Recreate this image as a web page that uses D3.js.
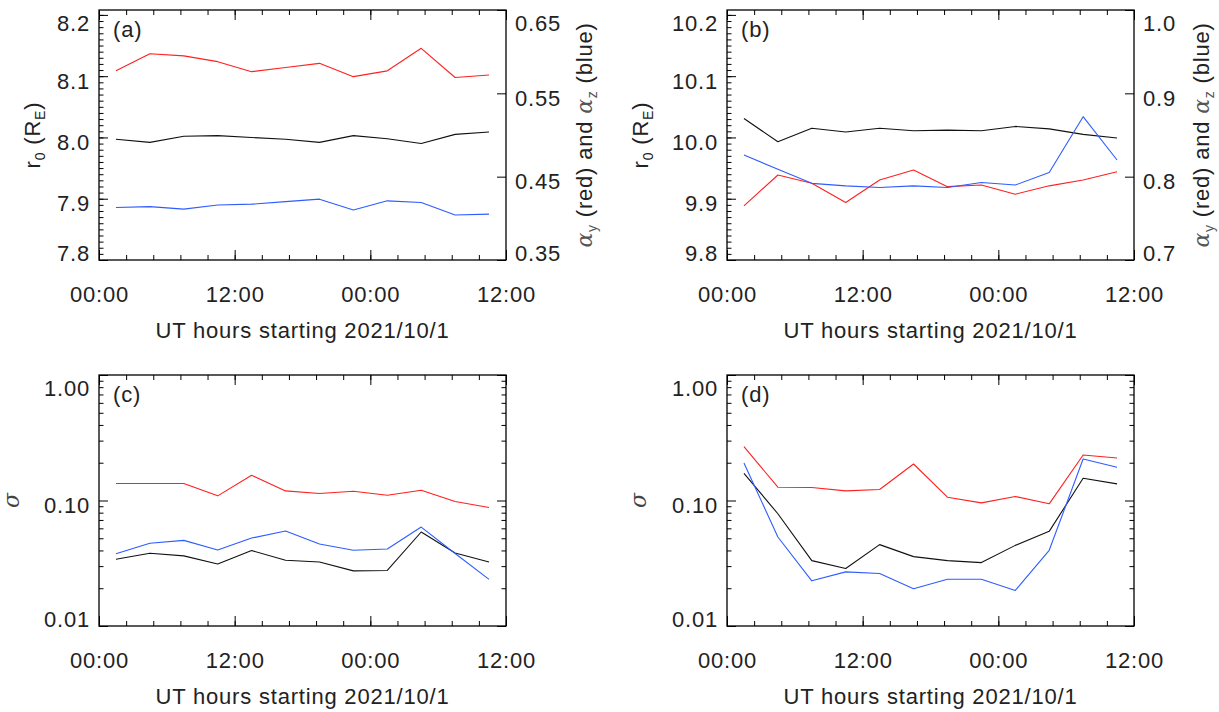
<!DOCTYPE html>
<html><head><meta charset="utf-8">
<script src="https://cdn.jsdelivr.net/npm/d3@7"></script>
<style>
body{margin:0;background:#fff;}
svg{display:block;}
</style></head><body>
<svg id="chart" width="1219" height="712"></svg>
<script>
// ---------- data ----------
const hours = [1.5, 4.5, 7.5, 10.5, 13.5, 16.5, 19.5, 22.5, 25.5, 28.5, 31.5, 34.5];
const xTickHours = [0, 12, 24, 36];
const xTickLabels = ["00:00", "12:00", "00:00", "12:00"];
const xTitle = "UT hours starting 2021/10/1";

const aR0     = [7.997, 7.992, 8.002, 8.003, 8.000, 7.997, 7.992, 8.003, 7.998, 7.990, 8.005, 8.009];
const aAlphaY = [0.577, 0.5975, 0.595, 0.588, 0.576, 0.581, 0.586, 0.570, 0.577, 0.604, 0.569, 0.572];
const aAlphaZ = [0.413, 0.414, 0.411, 0.416, 0.417, 0.420, 0.423, 0.410, 0.421, 0.419, 0.404, 0.405];

const bR0     = [10.031, 9.993, 10.015, 10.009, 10.015, 10.011, 10.012, 10.011, 10.018, 10.014, 10.005, 9.999];
const bAlphaY = [0.765, 0.802, 0.792, 0.769, 0.796, 0.808, 0.788, 0.790, 0.779, 0.789, 0.796, 0.806];
const bAlphaZ = [0.826, 0.809, 0.792, 0.789, 0.787, 0.789, 0.787, 0.793, 0.790, 0.805, 0.872, 0.820];

const cBlack = [0.0340, 0.0380, 0.0362, 0.0312, 0.0399, 0.0334, 0.0324, 0.0275, 0.0277, 0.0561, 0.0382, 0.0324];
const cRed   = [0.1365, 0.1365, 0.1365, 0.1089, 0.1589, 0.1193, 0.1137, 0.1186, 0.1102, 0.1208, 0.0982, 0.0880];
const cBlue  = [0.0377, 0.0456, 0.0481, 0.0403, 0.0502, 0.0571, 0.0450, 0.0401, 0.0411, 0.0614, 0.0378, 0.0235];

const dBlack = [0.1648, 0.0784, 0.0332, 0.0287, 0.0445, 0.0357, 0.0332, 0.0320, 0.0439, 0.0568, 0.1504, 0.1356];
const dRed   = [0.2683, 0.1276, 0.1268, 0.1193, 0.1223, 0.1954, 0.1063, 0.0958, 0.1076, 0.0941, 0.2304, 0.2181];
const dBlue  = [0.1990, 0.0512, 0.0229, 0.0270, 0.0262, 0.0198, 0.0236, 0.0236, 0.0192, 0.0401, 0.2141, 0.1839];

const aLeftTicks  = [7.8, 7.9, 8.0, 8.1, 8.2];
const aLeftDomain = [7.8, 8.208];
const aRightTicks = [0.35, 0.45, 0.55, 0.65];
const aRightDomain = [0.35, 0.65];
const bLeftTicks  = [9.8, 9.9, 10.0, 10.1, 10.2];
const bLeftDomain = [9.8, 10.208];
const bRightTicks = [0.7, 0.8, 0.9, 1.0];
const bRightDomain = [0.7, 1.0];
const sigmaTicks = [0.01, 0.1, 1];
const sigmaTickLabels = ["0.01", "0.10", "1.00"];
const sigmaDomain = [0.01, 1];

// ---------- style ----------
const FONT = '"Liberation Sans", Arial, Helvetica, sans-serif';
const FS = 22;
const TXT = "#222";
const RED = "#ff2020", BLUE = "#2e5cff", BLACK = "#111";
const svg = d3.select("#chart");

function styleAxis(sel) {
  sel.select(".domain").remove();
  sel.selectAll("line").attr("stroke", "#000").attr("stroke-width", 1);
  sel.attr("font-family", FONT).attr("font-size", FS);
  sel.selectAll("text").attr("fill", TXT).attr("letter-spacing", "0.8px");
}

function panel(cfg) {
  const {left, right, top, bottom} = cfg.box;
  const g = svg.append("g");
  const x = d3.scaleLinear().domain([0, 36]).range([left, right]);
  const xMinor = d3.range(0, 36.001, 2.4);

  g.append("g").attr("transform", `translate(0,${bottom})`)
    .call(d3.axisBottom(x).tickValues(xMinor).tickSize(-5).tickFormat(""))
    .call(styleAxis);
  g.append("g").attr("transform", `translate(0,${bottom})`)
    .call(d3.axisBottom(x).tickValues(xTickHours).tickSize(-10).tickFormat((d, i) => xTickLabels[i]))
    .call(styleAxis)
    .call(s => s.selectAll("text").attr("y", 42).attr("dy", null));
  g.append("g").attr("transform", `translate(0,${top})`)
    .call(d3.axisTop(x).tickValues(xMinor).tickSize(-5).tickFormat(""))
    .call(styleAxis);
  g.append("g").attr("transform", `translate(0,${top})`)
    .call(d3.axisTop(x).tickValues(xTickHours).tickSize(-10).tickFormat(""))
    .call(styleAxis);

  const yL = cfg.yL;
  const clampY = (d, sc) => Math.max(top + 20, Math.min(bottom, sc(d) + 12)) - sc(d);

  g.append("g").attr("transform", `translate(${left},0)`)
    .call(d3.axisLeft(yL).tickValues(cfg.minorL).tickSize(-4.5).tickFormat(""))
    .call(styleAxis);
  g.append("g").attr("transform", `translate(${left},0)`)
    .call(d3.axisLeft(yL).tickValues(cfg.ticksL).tickSize(-9).tickPadding(9).tickFormat(cfg.fmtL))
    .call(styleAxis)
    .call(s => s.selectAll("text").attr("dy", null).attr("y", d => clampY(d, yL)));

  if (cfg.yR) {
    g.append("g").attr("transform", `translate(${right},0)`)
      .call(d3.axisRight(cfg.yR).tickValues(cfg.ticksR).tickSize(-9).tickPadding(9).tickFormat(cfg.fmtR))
      .call(styleAxis)
      .call(s => s.selectAll("text").attr("dy", null).attr("y", d => clampY(d, cfg.yR)));
  } else {
    g.append("g").attr("transform", `translate(${right},0)`)
      .call(d3.axisRight(yL).tickValues(cfg.minorL).tickSize(-4.5).tickFormat(""))
      .call(styleAxis);
    g.append("g").attr("transform", `translate(${right},0)`)
      .call(d3.axisRight(yL).tickValues(cfg.ticksL).tickSize(-9).tickFormat(""))
      .call(styleAxis);
  }

  cfg.series.forEach(s => {
    const line = d3.line().x((d, i) => x(hours[i])).y(d => s.scale(d));
    g.append("path").datum(s.values)
      .attr("d", line).attr("fill", "none")
      .attr("stroke", s.color).attr("stroke-width", 1.1)
      .attr("stroke-linejoin", "round");
  });

  g.append("rect").attr("x", left).attr("y", top)
    .attr("width", right - left).attr("height", bottom - top)
    .attr("fill", "none").attr("stroke", "#000").attr("stroke-width", 1.3);

  g.append("text").attr("x", left + 14).attr("y", top + 27)
    .attr("font-family", FONT).attr("font-size", FS).attr("fill", TXT)
    .attr("letter-spacing", "0.8px").text(cfg.label);

  g.append("text").attr("x", (left + right) / 2).attr("y", bottom + 78)
    .attr("text-anchor", "middle")
    .attr("font-family", FONT).attr("font-size", FS).attr("fill", TXT)
    .attr("letter-spacing", "0.8px").text(xTitle);

  cfg.yTitle(g, (top + bottom) / 2);
  if (cfg.rTitle) cfg.rTitle(g, (top + bottom) / 2);
}

function rTitle(xb) {
  return (g, yc) => {
    const t = g.append("text").attr("transform", `translate(${xb},${yc}) rotate(-90)`)
      .attr("text-anchor", "middle").attr("font-family", FONT).attr("font-size", FS)
      .attr("fill", TXT).attr("letter-spacing", "0.8px");
    t.append("tspan").text("r");
    t.append("tspan").attr("font-size", 14).attr("dy", 5).text("0");
    t.append("tspan").attr("dy", -5).text(" (R");
    t.append("tspan").attr("font-size", 14).attr("dy", 5).text("E");
    t.append("tspan").attr("dy", -5).text(")");
  };
}
function alphaTitle(xb) {
  return (g, yc) => {
    const t = g.append("text").attr("transform", `translate(${xb},${yc}) rotate(-90)`)
      .attr("text-anchor", "middle").attr("font-family", FONT).attr("font-size", FS)
      .attr("fill", TXT).attr("letter-spacing", "0.8px");
    const greek = '"DejaVu Serif", "Liberation Serif", serif';
    t.append("tspan").attr("font-family", greek).attr("font-style", "italic").attr("fill", "#555").text("α");
    t.append("tspan").attr("font-size", 14).attr("dy", 5).attr("fill", "#555").text("y");
    t.append("tspan").attr("dy", -5).text(" (red) and ");
    t.append("tspan").attr("font-family", greek).attr("font-style", "italic").attr("fill", "#555").text("α");
    t.append("tspan").attr("font-size", 14).attr("dy", 5).attr("fill", "#555").text("z");
    t.append("tspan").attr("dy", -5).text(" (blue)");
  };
}
function sigmaTitle(xb) {
  return (g, yc) => {
    g.append("text").attr("transform", `translate(${xb},${yc}) rotate(-90)`)
      .attr("text-anchor", "middle")
      .attr("font-family", '"DejaVu Serif", "Liberation Serif", serif')
      .attr("font-style", "italic").attr("font-size", FS).attr("fill", "#444")
      .text("σ");
  };
}

const fmt1 = d3.format(".1f");
const fmt2 = d3.format(".2f");

function topPanel(box, leftDomain, leftTicks, rightDomain, rightTicks, rightFmt, r0, ay, az, label, rx, ax) {
  const yL = d3.scaleLinear().domain(leftDomain).range([box.bottom, box.top]);
  const yR = d3.scaleLinear().domain(rightDomain).range([box.bottom, box.top]);
  const minorL = yL.ticks(40).filter(v => v <= leftTicks[leftTicks.length - 1] + 1e-9);
  panel({
    box, yL, ticksL: leftTicks, minorL, fmtL: fmt1,
    yR, ticksR: rightTicks, fmtR: rightFmt,
    series: [
      {values: r0, scale: yL, color: BLACK},
      {values: ay, scale: yR, color: RED},
      {values: az, scale: yR, color: BLUE}
    ],
    label, yTitle: rTitle(rx), rTitle: alphaTitle(ax)
  });
}

function bottomPanel(box, blk, red, blue, label, sx) {
  const yL = d3.scaleLog().domain(sigmaDomain).range([box.bottom, box.top]);
  const minorL = yL.ticks().filter(v => !sigmaTicks.some(t => Math.abs(t - v) < 1e-9));
  panel({
    box, yL, ticksL: sigmaTicks, minorL,
    fmtL: d => sigmaTickLabels[sigmaTicks.findIndex(t => Math.abs(t - d) < 1e-9)],
    series: [
      {values: blk, scale: yL, color: BLACK},
      {values: red, scale: yL, color: RED},
      {values: blue, scale: yL, color: BLUE}
    ],
    label, yTitle: sigmaTitle(sx)
  });
}

topPanel({left: 99, right: 506, top: 10, bottom: 260}, aLeftDomain, aLeftTicks, aRightDomain, aRightTicks, fmt2,
         aR0, aAlphaY, aAlphaZ, "(a)", 40, 592);
topPanel({left: 727, right: 1134, top: 10, bottom: 260}, bLeftDomain, bLeftTicks, bRightDomain, bRightTicks, fmt1,
         bR0, bAlphaY, bAlphaZ, "(b)", 648, 1209);
bottomPanel({left: 99, right: 506, top: 375, bottom: 626}, cBlack, cRed, cBlue, "(c)", 19);
bottomPanel({left: 727, right: 1134, top: 375, bottom: 626}, dBlack, dRed, dBlue, "(d)", 646);
</script>
</body></html>
